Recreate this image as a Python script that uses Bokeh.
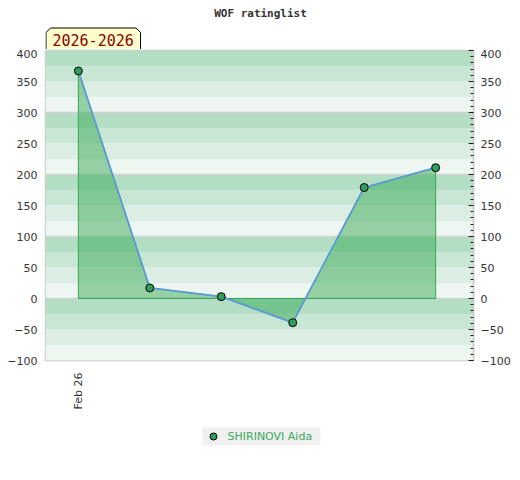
import numpy as np
from bokeh.plotting import figure
from bokeh.layouts import column
from bokeh.models import Range1d, LinearAxis, FixedTicker
from bokeh.core.properties import value
from bokeh.embed import file_html
from bokeh.resources import INLINE

# ---- data ----
x_idx = [0, 1, 2, 3, 4, 5]
ratings = [367, 17, 3, -39, 179, 211]
tick_pos = [0]
tick_labels = ["Feb 26"]
y_ticks = [-100, -50, 0, 50, 100, 150, 200, 250, 300, 350, 400]
band_colors = ["#eef6f1", "#dcede3", "#c8e6d4", "#b3dec4"]  # bottom -> top within each 100 block
title_text = "WOF ratinglist"
period_text = "2026-2026"
series_name = "SHIRINOVI Aida"

X0, X1 = -0.46, 5.53
Y0, Y1 = -100, 400
W = 520
BL, BR = 45, 47
lab_font = "DejaVu Sans"


def strip(height):
    f = figure(width=W, height=height, output_backend="svg", toolbar_location=None,
               x_axis_location=None, y_axis_location=None,
               x_range=Range1d(BL, W - BR), y_range=Range1d(height, 0),
               min_border_left=BL, min_border_right=BR, min_border_top=0, min_border_bottom=0)
    f.outline_line_color = None
    f.xgrid.visible = False
    f.ygrid.visible = False
    f.background_fill_color = "white"
    f.border_fill_color = "white"
    return f


# ---- header strip: title + period tag ----
t = strip(49)
t.patch([45.5, 45.5, 50, 135.5, 140, 140], [49, 32, 27.5, 27.5, 32, 49],
        fill_color="#ffffcc", line_color="black", line_width=1)
t.text(x=[52], y=[39.5], text=[period_text], text_font=value("DejaVu Sans Mono"),
       text_font_size="15px", text_color="#8b0000", text_baseline="middle", text_align="left")
t.text(x=[260], y=[13], text=[title_text], text_font=value("DejaVu Sans Mono"),
       text_font_size="11px", text_font_style="bold", text_color="#333333",
       text_baseline="middle", text_align="center")

# ---- main chart ----
p = figure(width=W, height=366, output_backend="svg", toolbar_location=None,
           x_range=Range1d(X0, X1), y_range=Range1d(Y0, Y1),
           min_border_left=BL, min_border_right=BR, min_border_top=1, min_border_bottom=55)
p.background_fill_color = "white"
p.border_fill_color = "white"
p.outline_line_color = "#cccccc"
p.outline_line_width = 1.5
p.xgrid.visible = False
p.ygrid.visible = False

band_y0 = list(range(Y0, Y1, 25))
band_y1 = [b + 25 for b in band_y0]
band_col = [band_colors[((b - Y0) // 25) % 4] for b in band_y0]
p.hstrip(y0=band_y0, y1=band_y1, fill_color=band_col, line_color=None)
p.hspan(y=[0, 100, 200, 300], line_color="#d2d2d2", line_width=1.5)

ax = [x_idx[0]] + x_idx + [x_idx[-1]]
ay = [0] + ratings + [0]
p.patch(ax, ay, fill_color="#3aaa55", fill_alpha=0.5, line_color="#33a852", line_width=1)
p.line(x_idx, ratings, line_color="#5b9bd5", line_width=1.8)
p.scatter(x_idx, ratings, size=8, fill_color="#2e9e5a", line_color="black", line_width=1)

ya = p.yaxis[0]
ya.ticker = FixedTicker(ticks=y_ticks)
ya.major_tick_in = 0
ya.major_tick_out = 0
ya.minor_tick_in = 0
ya.minor_tick_out = 0
ya.axis_line_color = None
ya.major_label_standoff = 8
ya.major_label_text_font = lab_font
ya.major_label_text_font_size = "11px"
ya.major_label_text_color = "#333333"

ra = LinearAxis(ticker=FixedTicker(ticks=y_ticks, minor_ticks=list(range(-100, 401, 10))))
ra.major_tick_in = 5
ra.major_tick_out = 0
ra.minor_tick_in = 3
ra.minor_tick_out = 0
ra.major_tick_line_color = "#222222"
ra.minor_tick_line_color = "#222222"
ra.axis_line_color = "#cccccc"
ra.axis_line_width = 1.5
ra.major_label_standoff = 7
ra.major_label_text_font = lab_font
ra.major_label_text_font_size = "11px"
ra.major_label_text_color = "#333333"
p.add_layout(ra, "right")

xa = p.xaxis[0]
xa.ticker = FixedTicker(ticks=tick_pos)
xa.major_label_overrides = {tp: tl for tp, tl in zip(tick_pos, tick_labels)}
xa.major_label_orientation = np.pi / 2
xa.major_tick_in = 0
xa.major_tick_out = 0
xa.minor_tick_in = 0
xa.minor_tick_out = 0
xa.axis_line_color = None
xa.major_label_standoff = 12
xa.major_label_text_font = lab_font
xa.major_label_text_font_size = "11px"
xa.major_label_text_color = "#333333"

# ---- legend strip ----
q = strip(65)
q.quad(left=[202], right=[320], top=[12], bottom=[30], fill_color="#f0f0f0", line_color=None)
q.scatter(x=[213], y=[21], size=7, fill_color="#2e9e5a", line_color="black", line_width=1)
q.text(x=[227], y=[21], text=[series_name], text_font=value(lab_font), text_font_size="11px",
       text_color="#3aaa5a", text_baseline="middle", text_align="left")

open("out.html", "w").write(file_html(column(t, p, q, spacing=0), INLINE))
